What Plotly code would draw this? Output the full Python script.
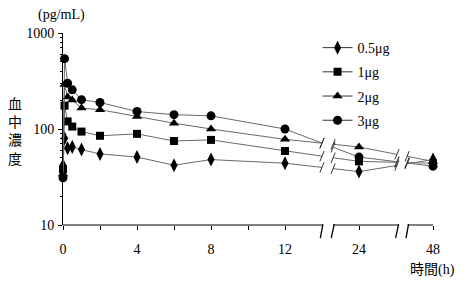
import numpy as np
import plotly.graph_objects as go

# ---- data ----
times = [0, 0.083, 0.25, 0.5, 1, 2, 4, 6, 8, 12, 24, 48]
dose_labels = ["0.5μg", "1μg", "2μg", "3μg"]
conc_05 = [42, 80, 63, 65, 61, 55, 51, 42, 48, 44, 36, 48]
conc_1 = [38, 175, 120, 106, 94, 85, 89, 75, 77, 59, 46, 44]
conc_2 = [34, 290, 215, 200, 165, 159, 135, 115, 100, 78, 65, 46]
conc_3 = [31, 540, 300, 256, 202, 189, 152, 141, 137, 100, 51, 41]
tick_times = [0, 2, 4, 6, 8, 10, 12, 24, 48]
tick_labels = ["0", "", "4", "", "8", "", "12", "24", "48"]

# ---- broken x axis mapping (time -> axis position) ----
anchor_t = [0, 12, 24, 48]
anchor_p = [0, 12, 16, 20]
gap1 = (14.0, 14.6)
gap2 = (18.05, 18.6)


def to_pos(t):
    return np.interp(t, anchor_t, anchor_p)


series = [conc_05, conc_1, conc_2, conc_3]
symbols = ["diamond-tall", "square", "triangle-up", "circle"]
sizes = [10, 8, 9, 9]
LINE_C = "#6a6a6a"
MARK_C = "#000000"
FONT = "Liberation Serif, Noto Sans CJK JP"

fig = go.Figure()

P = to_pos(times)
i12 = times.index(12)
i24 = times.index(24)
i48 = times.index(48)


def interp_log(pa, va, pb, vb, p):
    la, lb = np.log10(va), np.log10(vb)
    return 10 ** (la + (lb - la) * (p - pa) / (pb - pa))


for name, vals, sym, sz in zip(dose_labels, series, symbols, sizes):
    pa, pb, pc = P[i12], P[i24], P[i48]
    va, vb, vc = vals[i12], vals[i24], vals[i48]
    b1 = interp_log(pa, va, pb, vb, gap1[0])
    b2 = interp_log(pa, va, pb, vb, gap1[1])
    b3 = interp_log(pb, vb, pc, vc, gap2[0])
    b4 = interp_log(pb, vb, pc, vc, gap2[1])
    xs = list(P[: i12 + 1]) + [gap1[0], None, gap1[1], pb, gap2[0], None, gap2[1], pc]
    ys = list(vals[: i12 + 1]) + [b1, None, b2, vb, b3, None, b4, vc]
    fig.add_trace(go.Scatter(x=xs, y=ys, mode="lines", line=dict(color=LINE_C, width=1),
                             showlegend=False, hoverinfo="skip"))
    # break slashes at line ends
    fig.add_trace(go.Scatter(x=[gap1[0], gap1[1], gap2[0], gap2[1]], y=[b1, b2, b3, b4],
                             mode="markers",
                             marker=dict(symbol="line-ns", size=8, angle=22,
                                         line=dict(color="#333333", width=1)),
                             showlegend=False, hoverinfo="skip", cliponaxis=False))
    fig.add_trace(go.Scatter(x=P, y=vals, mode="markers",
                             marker=dict(symbol=sym, size=sz, color=MARK_C),
                             showlegend=False, cliponaxis=False))
    # legend entry
    fig.add_trace(go.Scatter(x=[None], y=[None], mode="lines+markers", name=name,
                             legendgroup=name,
                             line=dict(color="#333333", width=1),
                             marker=dict(symbol=sym, size=sz, color=MARK_C)))

# x axis segments and break marks
shapes = []
segs = [(0, 14.05), (14.6, 18.14), (18.62, 20)]
for a, b in segs:
    shapes.append(dict(type="line", xref="x", yref="paper", x0=a, x1=b, y0=0, y1=0,
                       line=dict(color="black", width=1)))
for xb, xt in [(13.91, 14.05), (14.5, 14.66), (17.98, 18.14), (18.54, 18.68)]:
    shapes.append(dict(type="line", xref="x", yref="paper", x0=xb, x1=xt, y0=-0.068, y1=0.005,
                       line=dict(color="black", width=1.3)))

minor_vals = [m * 10 ** e for e in (1, 2) for m in range(2, 10)]

fig.update_layout(
    width=465, height=283,
    margin=dict(l=63, r=32, t=33, b=58),
    paper_bgcolor="white", plot_bgcolor="white",
    font=dict(family=FONT, size=14, color="black"),
    shapes=shapes,
    showlegend=True,
    legend=dict(x=0.688, y=1.005, xanchor="left", yanchor="top",
                font=dict(family=FONT, size=14, color="black"),
                tracegroupgap=3, bgcolor="rgba(0,0,0,0)", traceorder="grouped"),
    xaxis=dict(range=[0, 20], showline=False, showgrid=False, zeroline=False,
               tickmode="array", tickvals=list(to_pos(tick_times)), ticktext=tick_labels,
               ticks="outside", ticklen=4, tickcolor="black", tickwidth=1,
               ticklabelstandoff=7,
               tickfont=dict(family=FONT, size=14, color="black")),
    yaxis=dict(type="log", range=[1, 3], showline=True, linecolor="black", linewidth=1,
               showgrid=False, zeroline=False,
               tickmode="array", tickvals=[10, 100, 1000], ticktext=["10", "100", "1000"],
               ticks="outside", ticklen=4, tickcolor="black",
               minor=dict(tickmode="array", tickvals=minor_vals, ticks="outside", ticklen=2,
                          tickcolor="black", showgrid=False),
               ticklabelstandoff=1,
               tickfont=dict(family=FONT, size=14, color="black")),
    annotations=[
        dict(text="(pg/mL)", xref="paper", yref="paper", x=-0.005, y=1.094,
             xanchor="center", yanchor="middle", showarrow=False,
             font=dict(family=FONT, size=14)),
        dict(text="血<br>中<br>濃<br>度", xref="paper", yref="paper", x=-0.13, y=0.492,
             xanchor="center", yanchor="middle", showarrow=False,
             font=dict(family="Noto Sans CJK JP", size=14)),
        dict(text="時間(h)", xref="paper", yref="paper", x=0.9986, y=-0.234,
             xanchor="center", yanchor="middle", showarrow=False,
             font=dict(family=FONT, size=14)),
    ],
)

fig.write_html("out.html")
